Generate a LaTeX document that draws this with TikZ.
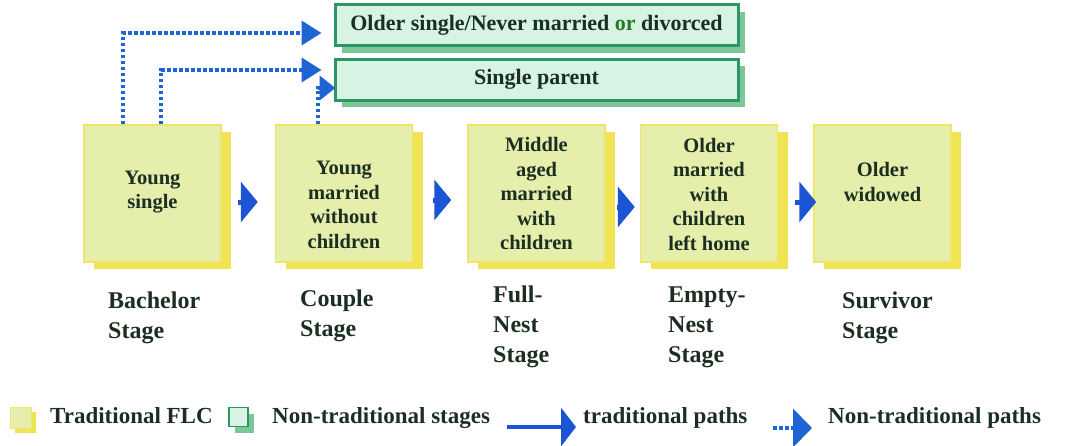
\documentclass[tikz,border=0pt]{standalone}
\usepackage{fontspec}
\setmainfont{Liberation Serif}
\usetikzlibrary{arrows.meta,shadows}
\definecolor{boxfill}{RGB}{229,238,170}
\definecolor{boxline}{RGB}{238,230,100}
\definecolor{boxshadow}{RGB}{240,228,85}
\definecolor{ntfill}{RGB}{214,243,228}
\definecolor{ntline}{RGB}{44,150,100}
\definecolor{ntshadow}{RGB}{125,198,152}
\definecolor{pathblue}{RGB}{28,84,214}
\definecolor{dotblue}{RGB}{30,100,210}
\definecolor{txt}{RGB}{28,46,34}
\definecolor{ortxt}{RGB}{40,120,40}
\begin{document}
\begin{tikzpicture}[x=1pt,y=-1pt,
  flc/.style={draw=boxline, line width=1.5pt, fill=boxfill, minimum width=137pt, minimum height=137pt, inner sep=0pt,
    drop shadow={shadow xshift=10pt, shadow yshift=-7pt, fill=boxshadow, opacity=1}},
  ntbox/.style={draw=ntline, line width=3pt, fill=ntfill, minimum width=403pt, minimum height=41pt, inner sep=0pt,
    drop shadow={shadow xshift=7pt, shadow yshift=-7pt, fill=ntshadow, opacity=1},
    font=\fontsize{22}{26}\selectfont\bfseries, text=txt},
  boxtext/.style={align=center, font=\fontsize{20.5}{24.5}\selectfont\bfseries, text=txt, inner sep=0pt},
  stagetext/.style={align=left, font=\fontsize{24}{30}\selectfont\bfseries, text=txt, inner sep=0pt, anchor=north west},
  legtext/.style={font=\fontsize{23}{27}\selectfont\bfseries, text=txt, inner sep=0pt, anchor=base west},
  tradarrow/.style={draw=pathblue, line width=5pt, -{Triangle[length=17pt,width=40pt]}},
  dotarrow/.style={draw=dotblue, line width=4pt, dash pattern=on 3.5pt off 2.5pt, -{Triangle[length=20pt,width=24pt]}},
]
\useasboundingbox (0,0) rectangle (1069,445);

% non-traditional stage boxes
\node[ntbox] (t1) at (536.5,25) {Older single/Never married {\color{ortxt}or} divorced};
\node[ntbox] (t2) at (536.5,79.5) {Single parent};

% traditional FLC boxes
\node[flc] (b1) at (152.5,193.5) {};
\node[flc] (b2) at (344,193.5) {};
\node[flc] (b3) at (536.5,193.5) {};
\node[flc] (b4) at (709,193.5) {};
\node[flc] (b5) at (882.5,193.5) {};

\node[boxtext] (b1t) at ([yshift=1.5pt]b1.center) {Young\\single};
\node[boxtext] (b2t) at ([yshift=-11.5pt]b2.center) {Young\\married\\without\\children};
\node[boxtext] (b3t) at ([yshift=0pt]b3.center) {Middle\\aged\\married\\with\\children};
\node[boxtext] (b4t) at ([yshift=-0.5pt]b4.center) {Older\\married\\with\\children\\left home};
\node[boxtext] (b5t) at ([yshift=11.5pt]b5.center) {Older\\widowed};

% stage labels
\node[stagetext] (s1) at (108,291.5) {Bachelor\\Stage};
\node[stagetext] (s2) at (300,289.5) {Couple\\Stage};
\node[stagetext] (s3) at (493,285.5) {Full-\\Nest\\Stage};
\node[stagetext] (s4) at (668,286.5) {Empty-\\Nest\\Stage};
\node[stagetext] (s5) at (842,291.5) {Survivor\\Stage};

% traditional paths
\draw[tradarrow] ([shift={(16pt,-8.5pt)}]b1.east) -- ([shift={(-17pt,-8.5pt)}]b2.west);
\draw[tradarrow] ([shift={(19.5pt,-6.5pt)}]b2.east) -- ([shift={(-16pt,-6.5pt)}]b3.west);
\draw[tradarrow] ([shift={(11pt,-13.5pt)}]b3.east) -- ([shift={(-5pt,-13.5pt)}]b4.west);
\draw[tradarrow] ([shift={(17pt,-8.5pt)}]b4.east) -- ([shift={(3pt,-8.5pt)}]b5.west);

% non-traditional paths
\coordinate (e1) at ([shift={(-12pt,-8pt)}]t1.west);
\coordinate (e2) at ([shift={(-12pt,9.5pt)}]t2.west);
\coordinate (e3) at ([shift={(2pt,-8.5pt)}]t2.west);
\draw[dotarrow] ([xshift=40pt]b1.north west) |- (e1);
\draw[dotarrow] ([xshift=78pt]b1.north west) |- (e2);
\draw[dotarrow, -{Triangle[length=16pt,width=24pt]}] ([xshift=43pt]b2.north west) |- (e3);

% legend
\node[draw=boxline, line width=1pt, fill=boxfill, minimum size=21pt, inner sep=0pt,
  drop shadow={shadow xshift=5pt, shadow yshift=-5pt, fill=boxshadow, opacity=1}] (ly) at (20.5,417.5) {};
\node[legtext] (lyt) at (50,423) {Traditional FLC};
\node[draw=ntline, line width=1.5pt, fill=ntfill, minimum size=19pt, inner sep=0pt,
  drop shadow={shadow xshift=6pt, shadow yshift=-6pt, fill=ntshadow, opacity=1}] (lg) at (238.5,417) {};
\node[legtext] (lgt) at (272,423) {Non-traditional stages};
\coordinate (la1) at (507,427);
\coordinate (la2) at (576,427);
\draw[tradarrow, line width=4pt, -{Triangle[length=15pt,width=38pt]}] (la1) -- (la2);
\node[legtext] (lat) at (583,423) {traditional paths};
\coordinate (ld1) at (773,428);
\coordinate (ld2) at (812,428);
\draw[dotarrow, -{Triangle[length=19pt,width=38pt]}] (ld1) -- (ld2);
\node[legtext] (ldt) at (828,423) {Non-traditional paths};
\end{tikzpicture}
\end{document}
